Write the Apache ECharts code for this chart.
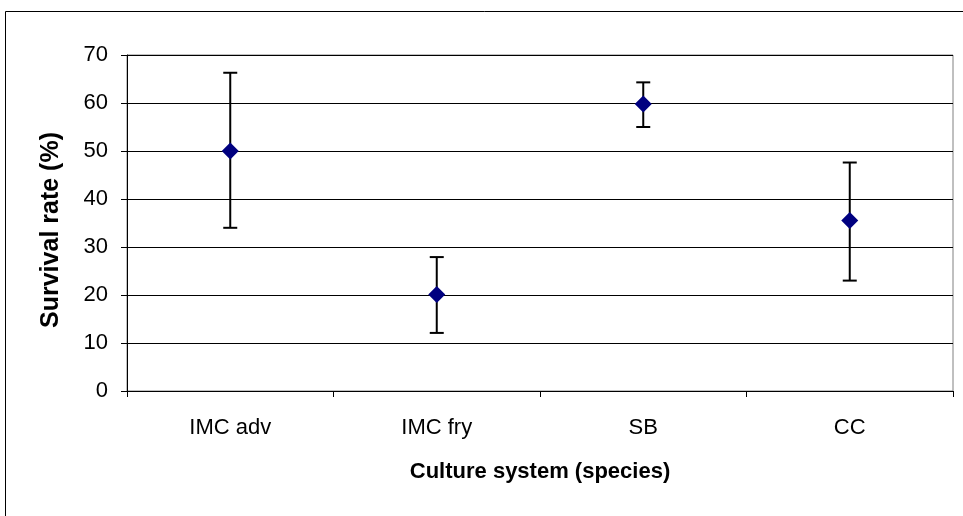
<!DOCTYPE html>
<html>
<head>
<meta charset="utf-8">
<script src="https://cdn.jsdelivr.net/npm/echarts@6/dist/echarts.min.js"></script>
<style>
  html, body { margin: 0; padding: 0; background: #fff; }
  #chart { width: 963px; height: 516px; }
</style>
</head>
<body>
<div id="chart"></div>
<script>
var categories = ['IMC adv', 'IMC fry', 'SB', 'CC'];
var survival = [50, 20.1, 59.8, 35.5];
var errLow = [34, 12.1, 55, 23];
var errHigh = [66.3, 27.9, 64.3, 47.6];
var yTicks = [0, 10, 20, 30, 40, 50, 60, 70];

var font = '"Liberation Sans", Arial, sans-serif';

var errData = [];
for (var i = 0; i < categories.length; i++) {
    errData.push([i, errLow[i], errHigh[i]]);
}

var chart = echarts.init(document.getElementById('chart'));

chart.setOption({
    backgroundColor: '#fff',
    animation: false,
    graphic: [{
        type: 'rect',
        shape: {x: 5.5, y: 11.5, width: 1000, height: 600},
        style: {fill: 'none', stroke: '#000', lineWidth: 1},
        silent: true,
        z: -10
    }],
    grid: {
        left: 127, right: 10, top: 55, bottom: 125,
        show: true, borderColor: '#808080', borderWidth: 1
    },
    xAxis: {
        type: 'category',
        data: categories,
        boundaryGap: true,
        axisLine: {lineStyle: {color: '#000', width: 1}},
        axisTick: {show: true, length: 6, alignWithLabel: false, lineStyle: {color: '#000'}},
        axisLabel: {color: '#000', fontSize: 22, fontFamily: font, margin: 26},
        name: 'Culture system (species)',
        nameLocation: 'middle',
        nameGap: 70,
        nameTextStyle: {color: '#000', fontSize: 22, fontWeight: 'bold', fontFamily: font}
    },
    yAxis: {
        type: 'value',
        min: yTicks[0],
        max: yTicks[yTicks.length - 1],
        interval: 10,
        axisLine: {show: true, lineStyle: {color: '#000', width: 1}},
        axisTick: {show: true, length: 6, lineStyle: {color: '#000'}},
        axisLabel: {color: '#000', fontSize: 22, fontFamily: font, margin: 19},
        splitLine: {show: true, lineStyle: {color: '#000', width: 1}},
        name: 'Survival rate (%)',
        nameLocation: 'middle',
        nameGap: 63,
        nameTextStyle: {color: '#000', fontSize: 25, fontWeight: 'bold', fontFamily: font, padding: [0, 14, 0, 0]}
    },
    series: [
        {
            type: 'custom',
            data: errData,
            z: 2,
            renderItem: function (params, api) {
                var x = api.value(0);
                var lo = api.coord([x, api.value(1)]);
                var hi = api.coord([x, api.value(2)]);
                var cap = 7;
                var st = {stroke: '#000', lineWidth: 2};
                return {
                    type: 'group',
                    children: [
                        {type: 'line', shape: {x1: lo[0], y1: lo[1], x2: hi[0], y2: hi[1]}, style: st},
                        {type: 'line', shape: {x1: lo[0] - cap, y1: lo[1], x2: lo[0] + cap, y2: lo[1]}, style: st},
                        {type: 'line', shape: {x1: hi[0] - cap, y1: hi[1], x2: hi[0] + cap, y2: hi[1]}, style: st}
                    ]
                };
            }
        },
        {
            type: 'scatter',
            data: survival,
            symbol: 'diamond',
            symbolSize: [17, 17],
            z: 3,
            itemStyle: {color: '#000080', opacity: 1}
        }
    ]
});
</script>
</body>
</html>
